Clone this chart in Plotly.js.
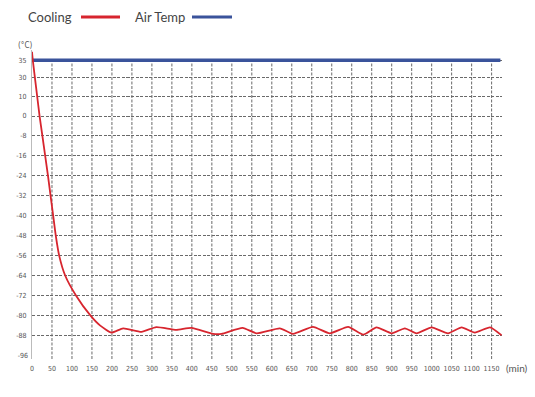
<!DOCTYPE html>
<html>
<head>
<meta charset="utf-8">
<script src="https://cdn.plot.ly/plotly-3.0.1.min.js"></script>
<style>html,body{margin:0;padding:0;background:#fff;}#chart{width:535px;height:397px;}</style>
</head>
<body>
<div id="chart"></div>
<script>
// ---- data (minutes, °C) ----
const coolingMin = [0, 2, 10, 19, 26, 33, 40, 46.5, 53, 59.5, 68, 83, 110, 146, 170, 199, 228, 274, 311, 361, 399, 453, 474, 527, 562, 620, 653, 703, 745, 791, 829, 862, 900, 933, 962, 1000, 1041, 1075, 1108, 1146, 1175];
const coolingTemp = [37.5, 35, 20, 0, -8, -16, -24, -32, -40, -48, -56, -64, -72, -80, -84, -86.9, -85.2, -86.6, -84.7, -85.8, -85.0, -87.4, -87.4, -85.0, -87.2, -85.2, -87.4, -84.6, -87.2, -84.6, -87.7, -84.8, -87.2, -85.2, -87.2, -84.8, -87.2, -84.8, -86.9, -84.8, -88];
const airMin = [0, 1172];
const airTemp = [35, 35];
const yTickLabels = [35, 30, 10, 0, -8, -16, -24, -32, -40, -48, -56, -64, -72, -80, -88, -96];
const xTickVals = [0,50,100,150,200,250,300,350,400,450,500,550,600,650,700,750,800,850,900,950,1000,1050,1100,1150];
const seriesNames = ['Cooling', 'Air Temp'];

// ---- non-uniform y scale of the original (positive side compressed) ----
const kneeReal = [0, 10, 30, 35];
const kneePos  = [0, 8, 15.6, 22.4];
function toAxis(v) {
  if (v <= 0) return v;
  for (let i = 1; i < kneeReal.length; i++) {
    if (v <= kneeReal[i]) {
      const t = (v - kneeReal[i-1]) / (kneeReal[i] - kneeReal[i-1]);
      return kneePos[i-1] + t * (kneePos[i] - kneePos[i-1]);
    }
  }
  const n = kneeReal.length - 1;
  const slope = (kneePos[n] - kneePos[n-1]) / (kneeReal[n] - kneeReal[n-1]);
  return kneePos[n] + (v - kneeReal[n]) * slope;
}

const RED = '#d7252e', BLUE = '#3a539b', GRID = '#6a6a6a';
const gridTicks = yTickLabels.filter(v => v !== -96);
const yRange = [-97.5, 26.5];

// plot area in pixels
const L = 32, R = 502, T = 50, B = 359;
const px = x => (x - L) / (R - L);
const py = y => (B - y) / (B - T);

const traces = [
  {x: airMin, y: airTemp.map(toAxis), mode: 'lines', name: seriesNames[1],
   line: {color: BLUE, width: 3.5}, showlegend: false, hoverinfo: 'skip'},
  {x: coolingMin, y: coolingTemp.map(toAxis), mode: 'lines', name: seriesNames[0],
   line: {color: RED, width: 1.8, shape: 'spline', smoothing: 0.5}, showlegend: false, hoverinfo: 'skip'}
];

const tickFont = {family: '"Liberation Sans Narrow", "DejaVu Sans Condensed", sans-serif', size: 7, color: '#555'};
const legFont = {family: 'Lato, "Noto Sans", sans-serif', size: 13, color: '#444'};

// vertical grid lines start at the top (35) grid line, as in the original
const vGrid = xTickVals.filter(v => v > 0).map(v => ({
  type: 'line', xref: 'x', yref: 'y', layer: 'below',
  x0: v, x1: v, y0: yRange[0], y1: toAxis(gridTicks[0]),
  line: {color: GRID, width: 1, dash: '3px,1.5px'}
}));

const layout = {
  width: 535, height: 397,
  margin: {l: L, r: 535 - R, t: T, b: 397 - B, pad: 0},
  paper_bgcolor: '#fff', plot_bgcolor: '#fff',
  showlegend: false,
  xaxis: {
    range: [0, 1176], tickmode: 'array', tickvals: xTickVals,
    ticktext: xTickVals.map(String),
    showgrid: false, zeroline: false, showline: false, ticks: '', tickfont: tickFont,
    ticklabelstandoff: 4
  },
  yaxis: {
    range: yRange, tickmode: 'array',
    tickvals: gridTicks.map(toAxis), ticktext: gridTicks.map(String),
    showgrid: true, gridcolor: GRID, griddash: '3px,1.5px', gridwidth: 1,
    zeroline: false, showline: true, linecolor: '#bbbbbb', linewidth: 1,
    ticks: '', tickfont: tickFont, ticklabelstandoff: 3
  },
  yaxis2: {
    overlaying: 'y', range: yRange, tickmode: 'array',
    tickvals: [-96].map(toAxis), ticktext: ['-96'],
    showgrid: false, zeroline: false, showline: false, ticks: '',
    tickfont: tickFont, ticklabelstandoff: 3, side: 'left'
  },
  shapes: vGrid.concat([
    {type: 'line', xref: 'paper', yref: 'paper', x0: px(81), x1: px(120), y0: py(17), y1: py(17), line: {color: RED, width: 3}},
    {type: 'line', xref: 'paper', yref: 'paper', x0: px(192), x1: px(232), y0: py(17), y1: py(17), line: {color: BLUE, width: 3}}
  ]),
  annotations: [
    {xref: 'paper', yref: 'paper', x: px(74), y: py(17), xanchor: 'right', yanchor: 'middle', showarrow: false,
     text: seriesNames[0], font: legFont},
    {xref: 'paper', yref: 'paper', x: px(187), y: py(17), xanchor: 'right', yanchor: 'middle', showarrow: false,
     text: seriesNames[1], font: legFont},
    {xref: 'paper', yref: 'paper', x: px(16), y: py(46), xanchor: 'left', yanchor: 'middle', showarrow: false,
     text: '(°C)', font: {family: '"Liberation Sans Narrow", "DejaVu Sans Condensed", sans-serif', size: 8, color: '#555'}},
    {xref: 'paper', yref: 'paper', x: px(504), y: py(368), xanchor: 'left', yanchor: 'middle', showarrow: false,
     text: '(min)', font: {family: 'Lato, "Noto Sans", sans-serif', size: 10, color: '#555'}}
  ]
};

// invisible point so the label-only axis is drawn
traces.push({x: [0], y: [toAxis(-96)], yaxis: 'y2', mode: 'markers', marker: {opacity: 0}, showlegend: false, hoverinfo: 'skip'});

Plotly.newPlot('chart', traces, layout, {staticPlot: true, displayModeBar: false});
</script>
</body>
</html>
